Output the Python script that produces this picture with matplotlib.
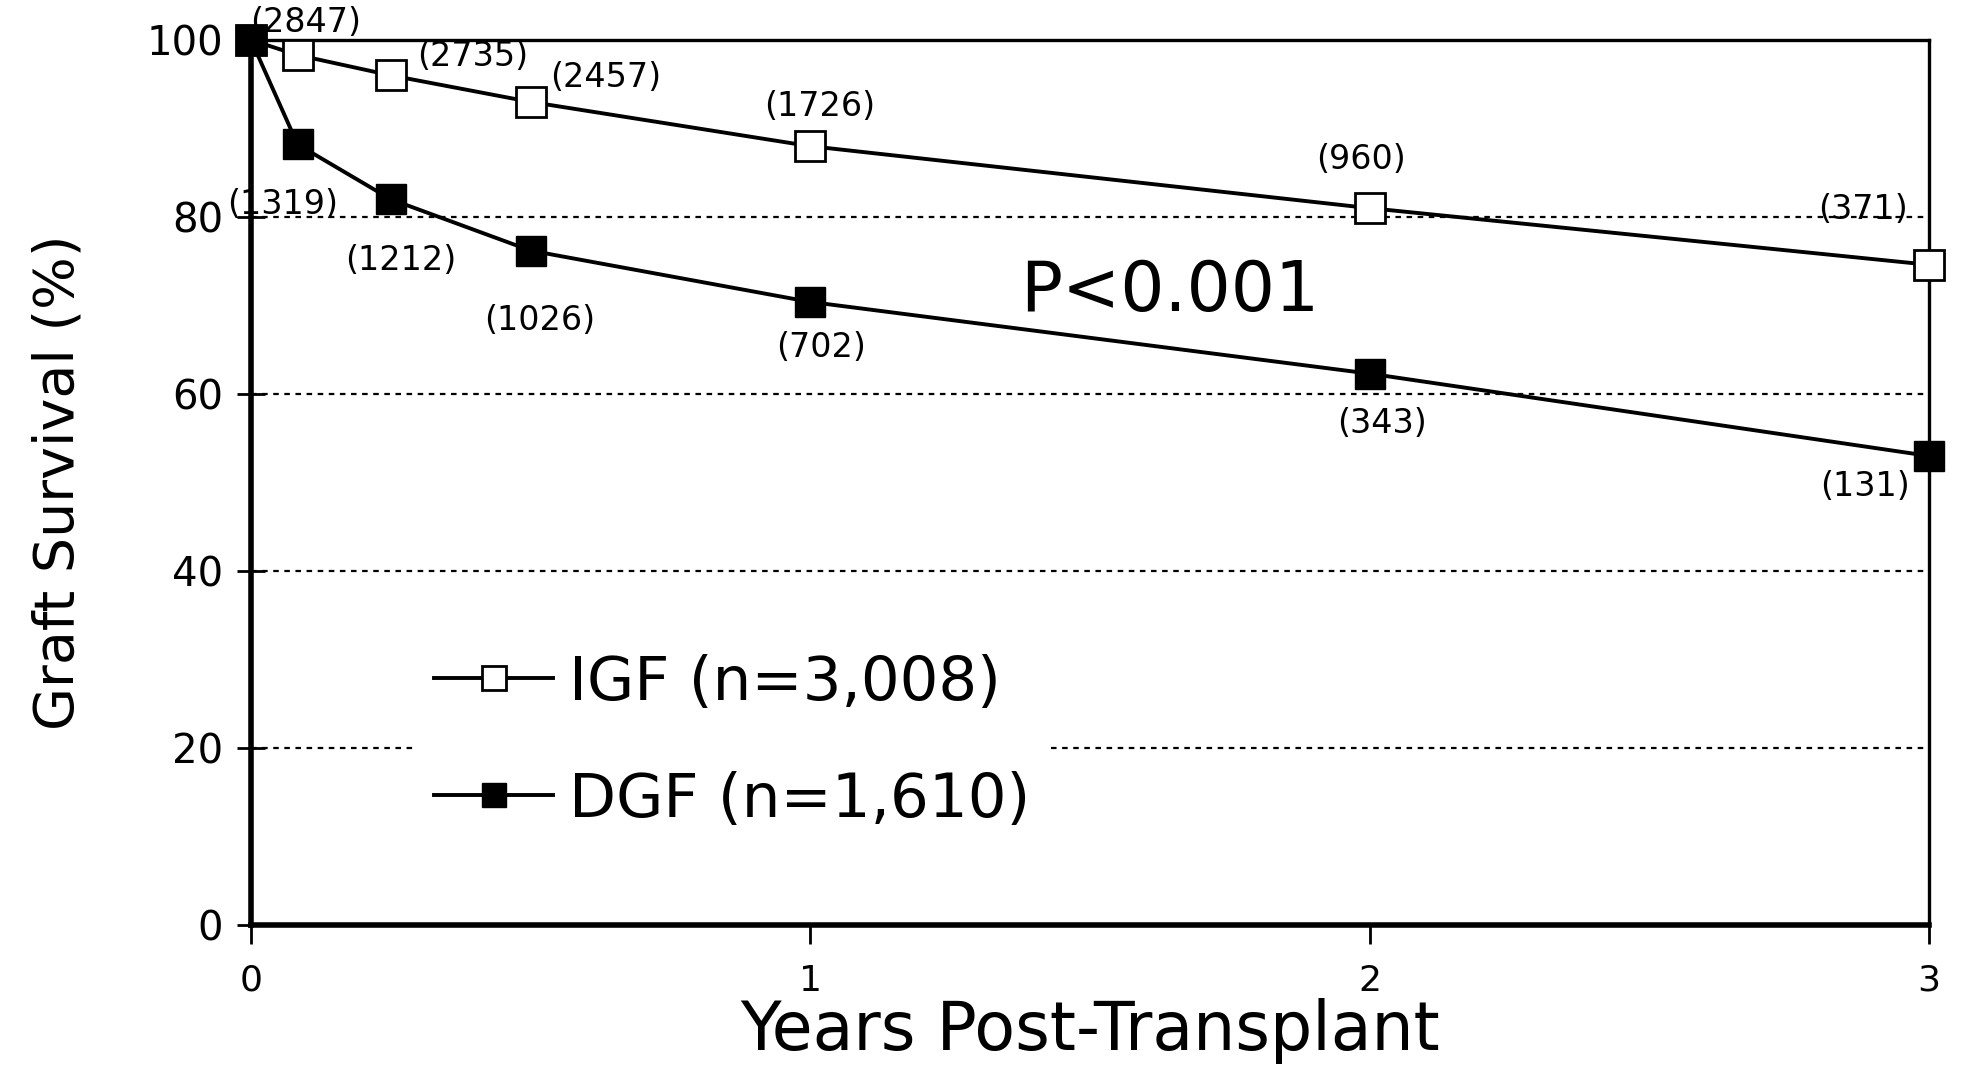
import matplotlib
matplotlib.use('Agg')
import matplotlib.pyplot as plt

# ---- data ----
years = [0, 1 / 12, 0.25, 0.5, 1, 2, 3]
igf_surv = [100, 98.3, 96.0, 93.0, 88.0, 81.0, 74.6]
dgf_surv = [100, 88.2, 82.0, 76.2, 70.4, 62.3, 53.0]

igf_n = ["(2847)", "(2735)", "(2457)", "(1726)", "(960)", "(371)"]
dgf_n = ["(1319)", "(1212)", "(1026)", "(702)", "(343)", "(131)"]

y_ticks = [0, 20, 40, 60, 80, 100]
x_ticks = [0, 1, 2, 3]
grid_levels = [20, 40, 60, 80]

# label offsets (pixels) relative to the points at years[1:]
igf_off = [(8, 33), (82, 19), (75, 24), (9, 40), (-9, 49), (-66, 55)]
dgf_off = [(-15, -60), (10, -61), (9, -70), (11, -46), (12, -50), (-64, -31)]

plt.rcParams['font.family'] = ['DejaVu Sans']

fig = plt.figure(figsize=(19.67, 10.69), dpi=100)
ax = fig.add_axes([0.1276, 0.1347, 0.8531, 0.8279])

for g in grid_levels:
    ax.axhline(g, color='black', lw=1.6, ls=(0, (2.5, 2.5)), zorder=1)

ax.plot(years, igf_surv, color='black', lw=2.8, marker='s', ms=21,
        mfc='white', mec='black', mew=2, label='IGF (n=3,008)', zorder=3,
        clip_on=False)
ax.plot(years, dgf_surv, color='black', lw=2.8, marker='s', ms=21,
        mfc='black', mec='black', label='DGF (n=1,610)', zorder=4,
        clip_on=False)

for lab, xv, yv, off in zip(igf_n, years[1:], igf_surv[1:], igf_off):
    ax.annotate(lab, (xv, yv), xytext=off, textcoords='offset pixels',
                ha='center', va='center', fontsize=24, annotation_clip=False)
for lab, xv, yv, off in zip(dgf_n, years[1:], dgf_surv[1:], dgf_off):
    ax.annotate(lab, (xv, yv), xytext=off, textcoords='offset pixels',
                ha='center', va='center', fontsize=24, annotation_clip=False)

ax.text(1.643, 71.6, 'P<0.001', fontsize=50, ha='center', va='center')

ax.set_xlim(0, 3)
ax.set_ylim(0, 100)
ax.set_xticks(x_ticks)
ax.set_yticks(y_ticks)
ax.tick_params(axis='x', direction='out', length=14, width=2, pad=14, labelsize=26)
ax.tick_params(axis='y', direction='inout', length=20, width=2, pad=10, labelsize=29)

for side in ['left', 'bottom']:
    ax.spines[side].set_linewidth(4)
ax.spines['right'].set_linewidth(2.4)
ax.spines['top'].set_linewidth(2.4)

ax.set_ylabel('Graft Survival (%)', fontsize=40, labelpad=44)
ax.set_xlabel('Years Post-Transplant', fontsize=48, labelpad=0)

leg = ax.legend(loc='center left', bbox_to_anchor=(0.08, 0.207), fontsize=44,
                frameon=True, facecolor='white', edgecolor='none', framealpha=1,
                handlelength=1.95, handletextpad=0.25, labelspacing=0.95,
                markerscale=0.85, borderpad=0.3)
leg.set_zorder(5)

fig.savefig('out.png', dpi=100)
